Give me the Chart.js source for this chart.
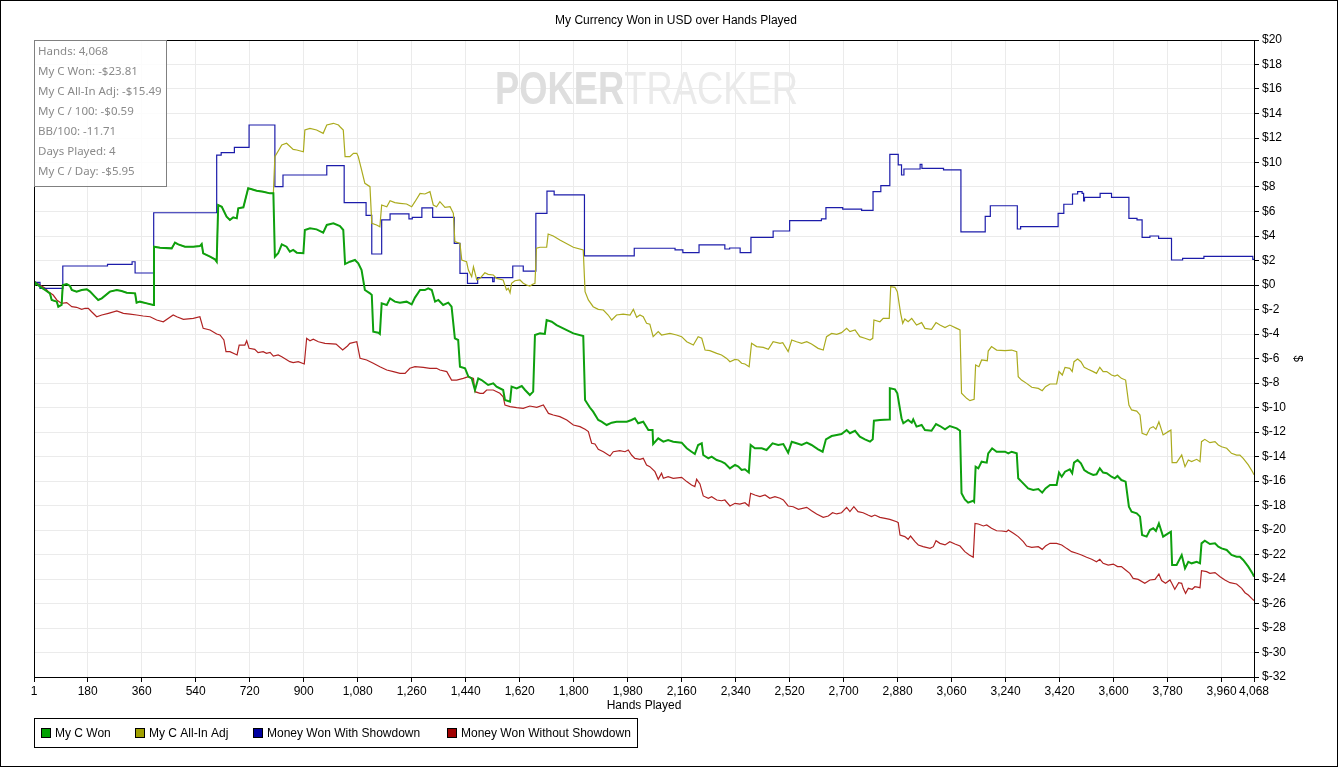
<!DOCTYPE html>
<html lang="en">
<head>
<meta charset="UTF-8">
<title>My Currency Won in USD over Hands Played</title>
<script src="https://cdn.jsdelivr.net/npm/chart.js"></script>
<style>
  html, body { margin: 0; padding: 0; background: #fff; }
  #wrap { width: 1338px; height: 767px; }
</style>
</head>
<body>
<div id="wrap"><canvas id="graph" width="1338" height="767"></canvas></div>
<script>
// My C Won (hands played -> USD)
var wonHands = [
  1, 4, 21, 38, 54, 60, 77, 82, 93, 97,
  110, 121, 127, 143, 160, 177, 188, 204, 215, 227,
  254, 277, 293, 310, 338, 343, 354, 377, 399, 401,
  421, 460, 471, 482, 504, 532, 554, 560, 565, 588,
  604, 610, 615, 627, 643, 654, 665, 677, 682, 699,
  715, 727, 743, 765, 788, 799, 804, 815, 827, 843,
  854, 865, 877, 899, 904, 921, 943, 965, 977, 999,
  1021, 1032, 1038, 1054, 1071, 1082, 1093, 1104, 1121, 1127,
  1132, 1149, 1154, 1160, 1177, 1188, 1204, 1221, 1243, 1260,
  1271, 1288, 1304, 1315, 1327, 1338, 1349, 1365, 1382, 1393,
  1404, 1415, 1421, 1438, 1449, 1460, 1471, 1482, 1493, 1515,
  1532, 1543, 1565, 1571, 1588, 1593, 1610, 1627, 1638, 1654,
  1665, 1671, 1688, 1704, 1710, 1727, 1743, 1799, 1832, 1838,
  1854, 1865, 1882, 1893, 1910, 1927, 1943, 1977, 1993, 2004,
  2015, 2032, 2049, 2063, 2065, 2082, 2099, 2115, 2132, 2160,
  2177, 2193, 2204, 2215, 2227, 2232, 2249, 2260, 2277, 2293,
  2304, 2321, 2338, 2349, 2360, 2371, 2384, 2390, 2404, 2427,
  2443, 2463, 2482, 2499, 2515, 2527, 2543, 2560, 2577, 2593,
  2615, 2630, 2641, 2660, 2677, 2693, 2710, 2721, 2738, 2754,
  2771, 2788, 2797, 2801, 2821, 2852, 2854, 2871, 2879, 2893,
  2899, 2915, 2927, 2932, 2943, 2960, 2971, 2993, 3008, 3021,
  3038, 3054, 3077, 3088, 3093, 3104, 3115, 3132, 3135, 3140,
  3149, 3160, 3177, 3182, 3195, 3210, 3238, 3249, 3260, 3277,
  3282, 3293, 3315, 3332, 3349, 3362, 3373, 3388, 3410, 3418,
  3427, 3438, 3454, 3462, 3468, 3480, 3491, 3502, 3515, 3532,
  3543, 3554, 3565, 3577, 3593, 3604, 3613, 3626, 3640, 3651,
  3660, 3677, 3688, 3695, 3710, 3721, 3732, 3741, 3751, 3758,
  3765, 3782, 3791, 3795, 3810, 3827, 3838, 3849, 3860, 3877,
  3888, 3893, 3904, 3921, 3938, 3949, 3960, 3977, 3993, 4010,
  4021, 4032, 4049, 4063, 4068
];
var wonValues = [
  0, 0.22, -0.13, -0.41, -0.68, -1.22, -1.36, -1.77, -1.63, 0,
  0.08, -0.08, -0.41, -0.54, -0.41, -0.35, -0.54, -0.95, -1.22, -1.09,
  -0.54, -0.41, -0.49, -0.63, -0.68, -1.44, -1.36, -1.5, -1.63, 3.13,
  3.05, 2.99, 3.46, 3.32, 3.13, 3.13, 3.18, 3.35, 2.59, 2.31,
  2.1, 1.9, 6.53, 6.39, 5.58, 5.31, 5.52, 5.44, 6.26, 6.34,
  7.89, 7.81, 7.7, 7.62, 7.48, 7.48, 2.31, 2.59, 3.32, 3.13,
  2.72, 2.86, 2.64, 2.59, 4.49, 4.63, 4.54, 4.27, 4.9, 5.03,
  4.8, 4.49, 1.71, 1.9, 2.04, 1.77, 1.22, -0.41, -0.68, -0.82,
  -3.81, -3.9, -4.0, -1.5, -1.63, -1.09, -1.36, -1.44, -1.36, -1.58,
  -1.03, -0.41, -0.41, -0.27, -0.41, -1.36, -1.22, -1.63, -1.44, -1.77,
  -4.35, -4.49, -6.67, -6.8, -7.48, -7.62, -8.57, -7.62, -7.76, -8.16,
  -8.03, -8.3, -8.57, -9.39, -9.52, -8.3, -8.44, -8.25, -8.57, -8.98,
  -8.71, -4.08, -3.95, -4.0, -2.86, -3.0, -3.27, -3.95, -4.16, -9.39,
  -10.0, -10.34, -11.02, -11.16, -11.43, -11.24, -11.16, -11.16, -11.02, -10.88,
  -11.29, -11.16, -11.84, -11.84, -12.98, -12.52, -12.79, -12.65, -12.79, -12.87,
  -13.33, -13.61, -13.8, -13.06, -12.92, -13.88, -14.15, -14.01, -14.29, -14.42,
  -14.56, -14.97, -14.69, -14.83, -15.1, -15.04, -15.31, -13.06, -13.33, -13.33,
  -13.47, -12.92, -13.06, -12.98, -13.69, -12.79, -12.92, -13.06, -12.87, -13.06,
  -13.41, -13.61, -12.6, -12.33, -12.24, -12.16, -11.84, -12.1, -11.9, -12.38,
  -12.6, -12.79, -12.6, -11.08, -11.02, -10.97, -8.43, -8.52, -8.84, -10.88,
  -11.29, -11.02, -11.24, -10.97, -11.56, -11.43, -11.84, -11.9, -11.35, -11.51,
  -11.78, -11.51, -11.7, -11.9, -17.0, -17.5, -17.77, -17.61, -17.69, -14.83,
  -14.97, -14.42, -14.5, -13.74, -13.33, -13.61, -13.61, -13.74, -13.61, -13.74,
  -15.78, -16.05, -16.6, -16.73, -16.65, -16.95, -16.6, -16.33, -16.33, -15.31,
  -15.65, -15.24, -15.05, -15.37, -14.5, -14.29, -14.56, -15.1, -15.31, -15.51,
  -15.45, -14.97, -15.31, -15.37, -15.65, -15.78, -15.59, -15.92, -16.05, -18.1,
  -18.5, -18.64, -18.91, -20.41, -20.54, -20.0, -19.86, -20.08, -19.46, -20.0,
  -20.54, -20.27, -20.14, -22.86, -22.86, -22.04, -23.13, -22.59, -22.72, -22.59,
  -22.72, -21.09, -20.87, -21.14, -21.09, -21.36, -21.5, -21.63, -22.04, -22.18,
  -22.18, -22.45, -22.99, -23.54, -23.81
];

// My C All-In Adj
var adjHands = [
  1, 4, 21, 38, 54, 60, 77, 82, 93, 97,
  110, 121, 127, 143, 160, 177, 188, 204, 215, 227,
  254, 277, 293, 310, 338, 343, 354, 377, 399, 401,
  421, 460, 471, 482, 504, 532, 554, 560, 565, 588,
  604, 610, 615, 627, 643, 654, 665, 677, 682, 699,
  715, 727, 743, 765, 788, 799, 804, 827, 843, 865,
  877, 899, 904, 921, 943, 965, 977, 999, 1016, 1021,
  1032, 1038, 1054, 1066, 1077, 1082, 1093, 1104, 1121, 1127,
  1143, 1154, 1160, 1177, 1188, 1204, 1221, 1243, 1260, 1271,
  1288, 1304, 1321, 1332, 1343, 1354, 1371, 1388, 1399, 1404,
  1421, 1427, 1443, 1449, 1460, 1466, 1477, 1488, 1504, 1515,
  1532, 1543, 1565, 1576, 1582, 1588, 1593, 1604, 1621, 1632,
  1643, 1654, 1665, 1671, 1676, 1688, 1710, 1715, 1732, 1754,
  1799, 1832, 1838, 1849, 1865, 1882, 1899, 1915, 1927, 1943,
  1965, 1988, 1999, 2010, 2021, 2032, 2043, 2054, 2065, 2082,
  2093, 2121, 2143, 2160, 2177, 2199, 2215, 2227, 2238, 2254,
  2277, 2293, 2310, 2321, 2338, 2349, 2360, 2371, 2385, 2393,
  2410, 2432, 2449, 2465, 2488, 2497, 2515, 2527, 2543, 2560,
  2577, 2593, 2615, 2632, 2643, 2660, 2677, 2693, 2710, 2721,
  2738, 2754, 2771, 2788, 2797, 2801, 2821, 2832, 2852, 2857,
  2871, 2879, 2890, 2897, 2904, 2915, 2927, 2943, 2960, 2971,
  2993, 3008, 3021, 3038, 3054, 3077, 3088, 3093, 3110, 3121,
  3135, 3140, 3151, 3160, 3179, 3182, 3193, 3210, 3238, 3260,
  3277, 3282, 3293, 3310, 3327, 3349, 3362, 3373, 3388, 3410,
  3418, 3429, 3438, 3454, 3462, 3468, 3480, 3491, 3502, 3515,
  3532, 3543, 3554, 3565, 3577, 3593, 3604, 3613, 3626, 3640,
  3651, 3660, 3677, 3688, 3695, 3710, 3721, 3732, 3741, 3751,
  3758, 3765, 3782, 3791, 3795, 3810, 3827, 3838, 3849, 3860,
  3877, 3888, 3893, 3904, 3921, 3938, 3949, 3960, 3977, 3993,
  4010, 4021, 4032, 4049, 4063, 4068
];
var adjValues = [
  0, 0.22, -0.13, -0.41, -0.68, -1.22, -1.36, -1.77, -1.63, 0,
  0.08, -0.08, -0.41, -0.54, -0.41, -0.35, -0.54, -0.95, -1.22, -1.09,
  -0.54, -0.41, -0.49, -0.63, -0.68, -1.44, -1.36, -1.5, -1.63, 3.13,
  3.05, 2.99, 3.46, 3.32, 3.13, 3.13, 3.18, 3.35, 2.59, 2.31,
  2.1, 1.9, 6.53, 6.39, 5.58, 5.31, 5.52, 5.44, 6.26, 6.34,
  7.89, 7.81, 7.7, 7.62, 7.48, 7.48, 10.48, 11.43, 11.57, 11.07,
  11.02, 10.88, 12.65, 12.79, 12.65, 12.38, 13.06, 13.2, 13.06, 12.92,
  12.65, 10.48, 10.48, 10.75, 10.75, 10.48, 9.39, 8.3, 8.03, 5.03,
  4.9, 4.76, 6.53, 6.39, 6.88, 6.72, 6.67, 6.61, 6.39, 6.8,
  7.48, 7.43, 7.62, 6.53, 6.39, 6.8, 6.34, 6.39, 5.85, 3.54,
  3.4, 2.04, 1.9, 1.22, 0.68, 1.49, 0.41, 0.54, 1.0, 0.87,
  0.82, 0.54, 0.41, -0.41, -0.27, -0.63, 0.14, 0.35, 0.41, 0.14,
  0, -0.08, 0.08, 0.14, 3.0, 3.08, 3.08, 4.16, 4.0, 3.67,
  3.08, 2.86, -0.54, -1.22, -1.77, -1.99, -2.04, -2.45, -2.86, -2.45,
  -2.37, -2.45, -1.99, -2.64, -2.45, -2.59, -3.13, -3.2, -4.22, -3.81,
  -4.08, -3.95, -4.08, -4.22, -4.63, -4.9, -4.22, -4.35, -5.31, -5.36,
  -5.58, -5.71, -5.99, -6.26, -6.07, -6.12, -6.39, -6.45, -6.67, -4.76,
  -5.03, -5.09, -5.25, -4.63, -4.76, -4.71, -5.44, -4.49, -4.63, -4.76,
  -4.63, -4.82, -5.17, -5.31, -4.22, -3.95, -4.03, -3.89, -3.54, -3.81,
  -3.67, -4.22, -4.35, -4.49, -4.35, -2.86, -3.0, -2.72, -2.72, -0.13,
  -0.19, -0.54, -2.31, -3.13, -2.78, -3.0, -2.72, -3.27, -3.07, -3.54,
  -3.62, -3.07, -3.27, -3.48, -3.27, -3.54, -3.67, -8.84, -9.25, -9.44,
  -9.33, -6.53, -6.67, -6.12, -6.18, -5.39, -5.03, -5.31, -5.36, -5.31,
  -5.44, -7.48, -7.76, -8.03, -8.35, -8.44, -8.63, -8.3, -8.08, -8.08,
  -7.07, -7.35, -6.72, -6.8, -7.07, -6.26, -6.04, -6.26, -6.72, -6.88,
  -7.07, -7.21, -6.72, -7.07, -7.07, -7.35, -7.43, -7.35, -7.62, -7.76,
  -9.8, -10.2, -10.29, -10.61, -12.1, -12.24, -11.7, -11.56, -11.78, -11.16,
  -11.7, -12.24, -11.97, -11.84, -14.5, -14.5, -13.88, -14.83, -14.29, -14.42,
  -14.23, -14.42, -12.79, -12.6, -12.87, -12.79, -13.06, -13.2, -13.33, -13.74,
  -13.88, -13.88, -14.15, -14.69, -15.24, -15.49
];

// Money Won With Showdown: hand where each level starts
var sdHands = [
  1, 21, 97, 246, 328, 338, 400, 610, 625, 669,
  718, 804, 831, 977, 1035, 1108, 1127, 1160, 1188, 1251,
  1262, 1294, 1330, 1402, 1421, 1446, 1480, 1530, 1535, 1597,
  1632, 1674, 1711, 1735, 1836, 2002, 2138, 2164, 2218, 2304,
  2320, 2355, 2391, 2465, 2520, 2626, 2641, 2697, 2760, 2798,
  2824, 2854, 2882, 2893, 2901, 2955, 2961, 3033, 3091, 3172,
  3189, 3279, 3290, 3415, 3434, 3463, 3480, 3495, 3500, 3503,
  3555, 3593, 3651, 3678, 3695, 3721, 3750, 3793, 3830, 3901,
  4064, 4068
];
var sdValues = [
  0.22, -0.27, 1.55, 1.69, 1.9, 0.98, 5.9, 10.61, 10.8, 11.24,
  13.06, 8.03, 8.98, 9.74, 6.72, 5.69, 2.53, 5.31, 5.8, 5.39,
  5.52, 6.29, 5.52, 3.4, 0.95, 0.14, 0.6, 0.27, 0.6, 1.55,
  1.14, 5.85, 7.67, 7.35, 2.37, 3.0, 2.86, 2.64, 3.27, 2.94,
  3.02, 2.64, 3.89, 4.41, 5.25, 5.39, 6.31, 6.2, 6.09, 7.62,
  8.11, 10.67, 9.8, 8.98, 9.47, 9.85, 9.52, 9.39, 4.33, 5.6,
  6.47, 4.57, 4.76, 5.85, 6.59, 7.43, 7.62, 7.48, 6.86, 7.16,
  7.48, 7.16, 5.44, 5.31, 3.89, 4.0, 3.81, 2.04, 2.18, 2.34,
  2.1, 2.1
];

// Money Won Without Showdown
var nsdHands = [
  1, 4, 21, 38, 49, 65, 77, 93, 110, 127,
  143, 160, 171, 182, 193, 210, 227, 249, 277, 299,
  321, 343, 365, 388, 410, 432, 465, 477, 499, 532,
  554, 565, 588, 610, 621, 634, 641, 654, 678, 685,
  704, 710, 718, 737, 748, 765, 776, 788, 799, 815,
  827, 854, 865, 882, 902, 910, 921, 932, 949, 971,
  1008, 1030, 1046, 1054, 1077, 1088, 1110, 1132, 1154, 1177,
  1199, 1221, 1238, 1254, 1271, 1299, 1321, 1343, 1354, 1377,
  1393, 1410, 1432, 1449, 1466, 1471, 1488, 1499, 1510, 1532,
  1554, 1565, 1571, 1588, 1610, 1632, 1654, 1677, 1699, 1716,
  1732, 1754, 1777, 1799, 1821, 1838, 1849, 1860, 1871, 1882,
  1899, 1921, 1932, 1954, 1971, 1982, 1993, 2004, 2021, 2032,
  2043, 2054, 2071, 2082, 2093, 2099, 2115, 2132, 2160, 2177,
  2193, 2204, 2210, 2221, 2232, 2249, 2260, 2277, 2293, 2304,
  2321, 2338, 2354, 2371, 2384, 2390, 2404, 2421, 2438, 2454,
  2471, 2488, 2499, 2515, 2532, 2549, 2577, 2593, 2610, 2632,
  2649, 2663, 2677, 2693, 2710, 2721, 2734, 2748, 2765, 2781,
  2793, 2804, 2821, 2838, 2854, 2877, 2882, 2888, 2904, 2915,
  2923, 2938, 2949, 2965, 2988, 2999, 3008, 3021, 3038, 3054,
  3071, 3088, 3104, 3119, 3132, 3138, 3149, 3166, 3177, 3193,
  3210, 3227, 3243, 3249, 3266, 3282, 3299, 3310, 3327, 3349,
  3362, 3373, 3388, 3410, 3427, 3443, 3460, 3477, 3493, 3510,
  3527, 3543, 3554, 3565, 3582, 3599, 3613, 3626, 3640, 3654,
  3665, 3682, 3704, 3721, 3738, 3751, 3760, 3773, 3788, 3793,
  3804, 3817, 3827, 3832, 3840, 3849, 3862, 3871, 3888, 3893,
  3910, 3921, 3938, 3955, 3971, 3988, 4010, 4027, 4038, 4049,
  4060, 4068
];
var nsdValues = [
  0, 0.27, 0, -0.27, -0.54, -0.82, -1.22, -1.5, -1.44, -1.77,
  -1.82, -1.99, -1.9, -1.9, -2.18, -2.59, -2.45, -2.31, -2.12, -2.31,
  -2.37, -2.45, -2.53, -2.59, -2.86, -3.0, -2.45, -2.59, -2.8, -2.72,
  -2.59, -3.54, -3.67, -4.0, -4.08, -4.49, -5.44, -5.44, -5.71, -4.9,
  -4.9, -4.55, -5.17, -5.25, -5.52, -5.44, -5.58, -5.5, -5.8, -5.71,
  -5.85, -6.26, -6.34, -6.26, -6.45, -4.35, -4.55, -4.43, -4.63, -4.76,
  -4.82, -5.31, -4.98, -4.76, -4.63, -5.98, -6.12, -6.39, -6.67, -6.94,
  -7.07, -7.21, -7.21, -6.8, -6.67, -6.72, -6.8, -6.8, -6.94, -7.07,
  -7.76, -7.76, -7.62, -7.48, -7.62, -8.71, -8.84, -8.84, -8.57, -8.57,
  -8.84, -9.12, -9.8, -9.93, -10.01, -10.07, -9.88, -9.99, -9.8, -10.48,
  -10.61, -10.75, -11.02, -11.43, -11.56, -11.78, -11.97, -12.92, -12.98, -13.41,
  -13.61, -13.96, -13.61, -13.52, -13.61, -13.47, -13.88, -14.15, -14.23, -14.15,
  -14.69, -14.83, -15.24, -15.86, -15.37, -15.78, -15.65, -15.78, -15.7, -16.05,
  -16.33, -16.46, -15.86, -16.24, -17.22, -17.41, -17.28, -17.55, -17.61, -17.55,
  -18.04, -17.82, -17.88, -17.77, -18.04, -17.0, -17.14, -17.28, -17.14, -17.41,
  -17.28, -17.41, -17.55, -18.04, -18.1, -18.31, -18.15, -18.42, -18.69, -18.97,
  -18.86, -18.59, -18.69, -18.59, -18.15, -18.5, -18.1, -18.5, -18.59, -18.78,
  -18.91, -18.78, -18.97, -19.05, -19.13, -19.32, -19.4, -20.41, -20.54, -20.76,
  -20.49, -20.95, -21.22, -21.36, -21.5, -21.36, -20.87, -21.09, -21.22, -20.95,
  -21.14, -21.31, -21.77, -22.04, -22.23, -19.46, -19.51, -19.67, -19.59, -19.86,
  -20.06, -20.08, -20.14, -20.0, -20.27, -20.54, -20.95, -21.31, -21.41, -21.36,
  -21.58, -21.31, -21.09, -21.09, -21.22, -21.5, -21.77, -21.9, -22.04, -22.23,
  -22.39, -22.59, -22.39, -22.72, -22.86, -22.78, -22.99, -22.99, -23.27, -23.54,
  -23.95, -24.03, -24.35, -24.08, -24.03, -23.59, -24.13, -24.35, -24.08, -24.3,
  -24.84, -24.3, -24.35, -24.76, -25.17, -24.76, -24.84, -24.63, -24.71, -23.32,
  -23.4, -23.54, -23.48, -23.81, -24.08, -24.3, -24.41, -24.76, -25.12, -25.31,
  -25.58, -25.75
];

var seriesNames = ['My C Won', 'My C All-In Adj', 'Money Won With Showdown', 'Money Won Without Showdown'];
var xTicks = [1, 180, 360, 540, 720, 900, 1080, 1260, 1440, 1620, 1800, 1980, 2160, 2340, 2520, 2700, 2880, 3060, 3240, 3420, 3600, 3780, 3960, 4068];
var statLines = [
  'Hands: 4,068',
  'My C Won: -$23.81',
  'My C All-In Adj: -$15.49',
  'My C / 100: -$0.59',
  'BB/100: -11.71',
  'Days Played: 4',
  'My C / Day: -$5.95'
];
var chartTitle = 'My Currency Won in USD over Hands Played';

var uiFont = "'Liberation Sans', Arial, sans-serif";

function toPoints(hands, values) {
  return hands.map(function (h, i) { return { x: h, y: values[i] }; });
}

// title, watermark, stats box, legend box and frames
var decorations = {
  id: 'decorations',
  beforeDatasetsDraw: function (chart) {
    var ctx = chart.ctx;
    ctx.save();
    ctx.font = 'bold 46px ' + uiFont;
    var w1 = ctx.measureText('POKER').width;
    ctx.font = '46px ' + uiFont;
    var w2 = ctx.measureText('TRACKER').width;
    var sx = 303 / (w1 + w2);
    ctx.translate(495, 104);
    ctx.scale(sx, 1);
    ctx.textBaseline = 'alphabetic';
    ctx.fillStyle = '#dedede';
    ctx.font = 'bold 46px ' + uiFont;
    ctx.fillText('POKER', 0, 0);
    ctx.fillStyle = '#eaeaea';
    ctx.font = '46px ' + uiFont;
    ctx.fillText('TRACKER', w1, 0);
    ctx.restore();
  },
  afterDraw: function (chart) {
    var ctx = chart.ctx;
    var a = chart.chartArea;
    ctx.save();
    ctx.lineWidth = 1;
    ctx.strokeStyle = '#000';
    ctx.strokeRect(0.5, 0.5, chart.width - 1, chart.height - 1);
    ctx.strokeRect(Math.round(a.left) + 0.5, Math.round(a.top) + 0.5,
      Math.round(a.right - a.left), Math.round(a.bottom - a.top));

    ctx.fillStyle = '#000';
    ctx.font = '12px ' + uiFont;
    ctx.textAlign = 'center';
    ctx.textBaseline = 'middle';
    ctx.fillText(chartTitle, 676, 21);

    // stats box
    ctx.fillStyle = 'rgba(255,255,255,0.85)';
    ctx.fillRect(34.5, 40.5, 132, 146);
    ctx.strokeStyle = '#808080';
    ctx.strokeRect(34.5, 40.5, 132, 146);
    ctx.fillStyle = '#8a8a8a';
    ctx.font = "11.5px 'Noto Sans', sans-serif";
    ctx.textAlign = 'left';
    statLines.forEach(function (t, i) { ctx.fillText(t, 38, 52 + i * 20); });

    // legend
    ctx.strokeStyle = '#000';
    ctx.strokeRect(34.5, 718.5, 603, 29);
    var legendX = [41, 135, 253, 447];
    ctx.font = '12px ' + uiFont;
    chart.data.datasets.forEach(function (ds, i) {
      ctx.fillStyle = ds.legendColor;
      ctx.fillRect(legendX[i], 728, 10, 10);
      ctx.strokeStyle = '#000';
      ctx.strokeRect(legendX[i] + 0.5, 728.5, 9, 9);
      ctx.fillStyle = '#000';
      ctx.fillText(ds.label, legendX[i] + 14, 733.5);
    });
    ctx.restore();
  }
};

var chart = new Chart(document.getElementById('graph').getContext('2d'), {
  type: 'line',
  data: {
    datasets: [
      { label: seriesNames[0], data: toPoints(wonHands, wonValues), borderColor: '#0ea00e', legendColor: '#00a000', borderWidth: 2 },
      { label: seriesNames[1], data: toPoints(adjHands, adjValues), borderColor: '#abab1e', legendColor: '#a0a000', borderWidth: 1.2 },
      { label: seriesNames[2], data: toPoints(sdHands, sdValues), borderColor: '#1c1caa', legendColor: '#0000a0', borderWidth: 1.2, stepped: true },
      { label: seriesNames[3], data: toPoints(nsdHands, nsdValues), borderColor: '#b02222', legendColor: '#a00000', borderWidth: 1.2 }
    ]
  },
  options: {
    responsive: false,
    animation: false,
    devicePixelRatio: 1,
    layout: { padding: { left: 34, top: 40, right: 30, bottom: 50 } },
    elements: { point: { radius: 0 }, line: { tension: 0, fill: false } },
    plugins: { legend: { display: false }, tooltip: { enabled: false }, title: { display: false } },
    scales: {
      x: {
        type: 'linear',
        min: 1,
        max: 4068,
        afterBuildTicks: function (s) { s.ticks = xTicks.map(function (v) { return { value: v }; }); },
        afterFit: function (s) { s.height = 40; },
        ticks: {
          autoSkip: false, maxRotation: 0, color: '#000', padding: 2,
          font: { family: uiFont, size: 12 },
          callback: function (v) { return v.toLocaleString('en-US'); }
        },
        grid: { color: '#ebebeb', tickColor: '#000', tickLength: 5 },
        border: { color: '#000' },
        title: { display: true, text: 'Hands Played', color: '#000', font: { family: uiFont, size: 12 }, padding: { top: 0, bottom: 4 } }
      },
      y: {
        position: 'right',
        min: -32,
        max: 20,
        afterFit: function (s) { s.width = 54; },
        ticks: {
          stepSize: 2, color: '#000', padding: 3,
          font: { family: uiFont, size: 12 },
          callback: function (v) { return '$' + v; }
        },
        grid: {
          color: function (c) { return c.tick && c.tick.value === 0 ? '#000' : '#ebebeb'; },
          tickColor: '#000', tickLength: 5
        },
        border: { color: '#000' },
        title: { display: true, text: '$', color: '#000', font: { family: uiFont, size: 12 }, padding: { top: 3, bottom: 0 } }
      }
    }
  },
  plugins: [decorations]
});
</script>
</body>
</html>
